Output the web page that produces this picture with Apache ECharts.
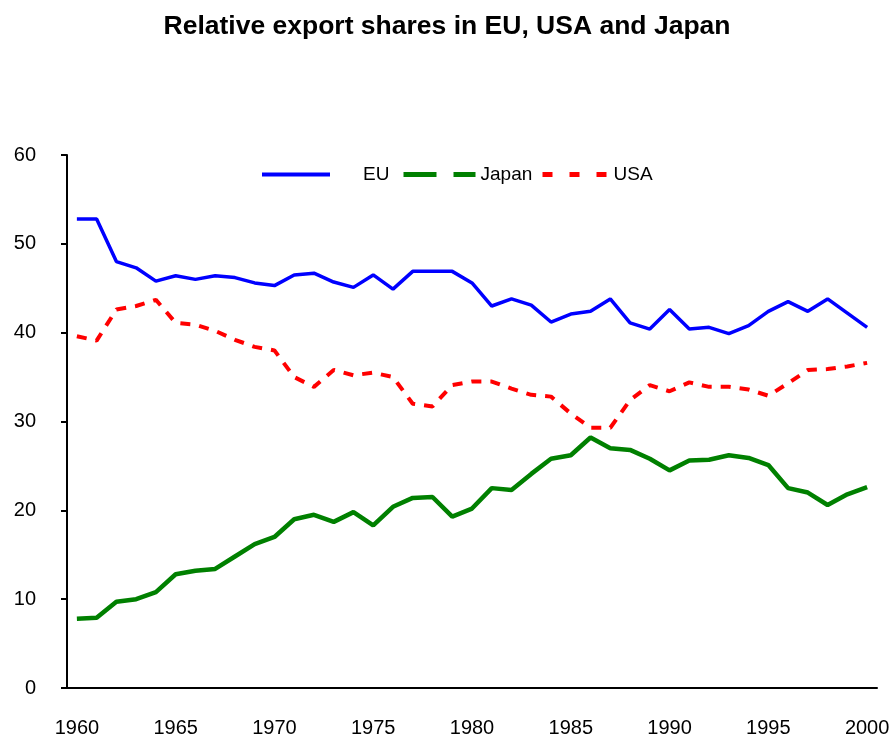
<!DOCTYPE html>
<html>
<head>
<meta charset="utf-8">
<script src="https://cdn.jsdelivr.net/npm/echarts@6/dist/echarts.min.js"></script>
<style>
  html, body { margin: 0; padding: 0; background: #fff; }
  #chart { width: 894px; height: 738px; }
</style>
</head>
<body>
<div id="chart"></div>
<script>
// years 1960 - 2000
var years = [];
for (var y = 1960; y <= 2000; y++) { years.push(String(y)); }

var euData = [52.8, 52.8, 48.0, 47.3, 45.8, 46.4, 46.0, 46.4, 46.2, 45.6,
              45.3, 46.5, 46.7, 45.7, 45.1, 46.5, 44.9, 46.9, 46.9, 46.9,
              45.6, 43.0, 43.8, 43.1, 41.2, 42.1, 42.4, 43.8, 41.1, 40.4,
              42.6, 40.4, 40.6, 39.9, 40.8, 42.4, 43.5, 42.4, 43.8, 42.2,
              40.6];

var japanData = [7.8, 7.9, 9.7, 10.0, 10.8, 12.8, 13.2, 13.4, 14.8, 16.2,
                 17.0, 19.0, 19.5, 18.7, 19.8, 18.3, 20.4, 21.4, 21.5, 19.3,
                 20.2, 22.5, 22.3, 24.1, 25.8, 26.2, 28.2, 27.0, 26.8, 25.8,
                 24.5, 25.6, 25.7, 26.2, 25.9, 25.1, 22.5, 22.0, 20.6, 21.8,
                 22.6];

var usaData = [39.6, 39.1, 42.6, 43.0, 43.7, 41.1, 40.9, 40.2, 39.2, 38.4,
               38.0, 35.0, 33.9, 35.8, 35.2, 35.5, 35.0, 32.0, 31.7, 34.1,
               34.5, 34.5, 33.7, 33.0, 32.8, 30.9, 29.3, 29.3, 32.4, 34.1,
               33.4, 34.4, 33.9, 33.9, 33.6, 32.9, 34.3, 35.8, 35.9, 36.2,
               36.6];

var chart = echarts.init(document.getElementById('chart'));
var font = 'Liberation Sans, Arial, sans-serif';

var legendBase = {
    top: 165,
    padding: 0,
    itemHeight: 14,
    itemStyle: { opacity: 0 },
    textStyle: { fontFamily: font, fontSize: 19, color: '#000' }
};

option = {
    animation: false,
    backgroundColor: '#fff',
    title: {
        text: 'Relative export shares in EU, USA and Japan',
        left: 'center',
        top: 8,
        textStyle: { fontFamily: font, fontSize: 26.5, fontWeight: 'bold', color: '#000' }
    },
    legend: [
        Object.assign({}, legendBase, {
            left: 260, itemWidth: 68,
            lineStyle: { width: 4 },
            data: [{ name: 'EU', textStyle: { padding: [0, 0, 0, 28] } }]
        }),
        Object.assign({}, legendBase, {
            left: 401, itemWidth: 72,
            lineStyle: { width: 5, type: [33, 17] },
            data: [{ name: 'Japan' }]
        }),
        Object.assign({}, legendBase, {
            left: 540, itemWidth: 66,
            lineStyle: { width: 5, type: [10, 17] },
            data: [{ name: 'USA' }]
        })
    ],
    grid: { left: 67, right: 17, top: 155, bottom: 50 },
    xAxis: {
        type: 'category',
        data: years,
        boundaryGap: true,
        axisLine: { lineStyle: { color: '#000', width: 2 } },
        axisTick: { interval: 0, length: 7, lineStyle: { color: '#000', width: 2 } },
        axisLabel: { interval: 4, margin: 30, fontFamily: font, fontSize: 20, color: '#000' },
        splitLine: { show: false }
    },
    yAxis: {
        type: 'value',
        min: 0,
        max: 60,
        interval: 10,
        axisLine: { show: true, lineStyle: { color: '#000', width: 2 } },
        axisTick: { show: true, length: 6, lineStyle: { color: '#000', width: 2 } },
        axisLabel: { margin: 31, fontFamily: font, fontSize: 20, color: '#000' },
        splitLine: { show: false }
    },
    series: [
        {
            name: 'EU',
            type: 'line',
            data: euData,
            symbol: 'none',
            lineStyle: { color: '#0000ff', width: 3.5 },
            itemStyle: { color: '#0000ff' }
        },
        {
            name: 'Japan',
            type: 'line',
            data: japanData,
            symbol: 'none',
            lineStyle: { color: '#008000', width: 4.5 },
            itemStyle: { color: '#008000' }
        },
        {
            name: 'USA',
            type: 'line',
            data: usaData,
            symbol: 'none',
            lineStyle: { color: '#ff0000', width: 4, type: [10, 9] },
            itemStyle: { color: '#ff0000' }
        }
    ]
};

chart.setOption(option);
</script>
</body>
</html>
